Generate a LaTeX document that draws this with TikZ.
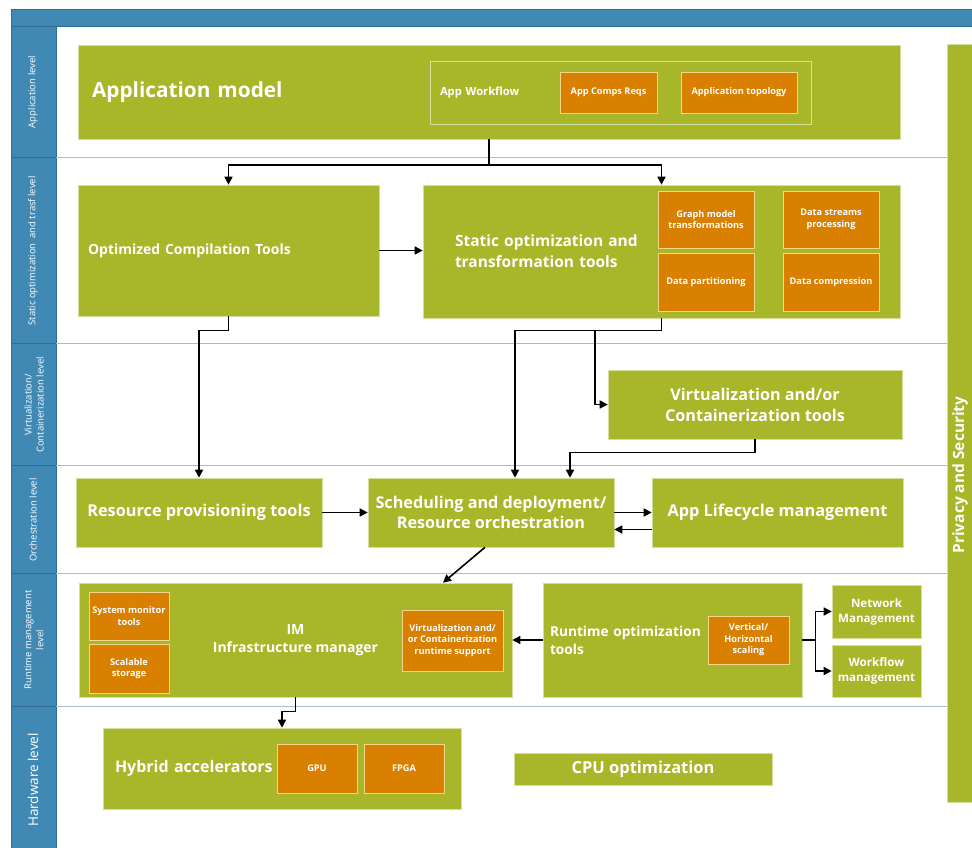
\documentclass[tikz,border=0pt]{standalone}
\usepackage{fontspec}
\setmainfont{Open Sans}
\usetikzlibrary{arrows.meta}
\definecolor{appgreen}{RGB}{167,183,41}
\definecolor{greenline}{RGB}{214,222,160}
\definecolor{apporange}{RGB}{217,128,0}
\definecolor{orangeline}{RGB}{242,214,140}
\definecolor{laneblue}{RGB}{65,137,181}
\definecolor{lanedark}{RGB}{50,108,145}
\definecolor{lanegray}{RGB}{170,188,200}

\begin{document}
\begin{tikzpicture}[x=1pt,y=-1pt,>={Triangle[length=8pt,width=8pt]}]
\tikzstyle{every node}=[inner sep=0pt,text=white,align=center];
\tikzstyle{box}=[fill=appgreen,draw=greenline,line width=0.6pt];
\tikzstyle{subbox}=[fill=apporange,draw=orangeline,line width=0.6pt,font=\bfseries\fontsize{9.2}{11.5}\selectfont];
\tikzstyle{lanelabel}=[rotate=90,font=\fontsize{9.5}{12}\selectfont];
\tikzstyle{link}=[->,line width=1.6pt];
\useasboundingbox (0,0) rectangle (972,848);
\fill[white] (0,0) rectangle (972,848);
\filldraw[fill=laneblue,draw=lanedark] (11,9) rectangle (975,26);
\filldraw[fill=laneblue,draw=lanedark] (11,26) rectangle (56,850);
\foreach \y in {158,343,465,573,706} {
  \draw[lanegray,line width=1pt] (56,\y) -- (947,\y);
  \draw[lanedark,line width=1pt] (11,\y) -- (56,\y);
}
\node[lanelabel] (l1) at (33,92) {Application level};
\node[lanelabel] (l2) at (33,251) {Static optimization\ \ and trasf level};
\node[lanelabel] (l3) at (34,405) {Virtualization/\\Containerization level};
\node[lanelabel] (l4) at (33,520) {Orchestration level};
\node[lanelabel] (l5) at (34,640) {Runtime management\\level};
\node[lanelabel,font=\fontsize{13.5}{16}\selectfont] (l6) at (33,780) {Hardware level};

\node[box,minimum width=822pt,minimum height=94pt,text width=794pt,align=left,font=\bfseries\fontsize{20.8}{24}\selectfont] (am) at (489,92) {Application model};
\node[draw=greenline,line width=0.8pt,minimum width=381pt,minimum height=63pt,text width=361pt,align=left,font=\bfseries\fontsize{11.2}{13}\selectfont] (wf) at (620.5,92.5) {App Workflow};
\node[subbox,minimum width=97pt,minimum height=41pt] (acr) at (608.5,92.5) {App Comps Reqs};
\node[subbox,minimum width=116pt,minimum height=41pt] (atop) at (739,92.5) {Application topology};

\node[box,minimum width=301pt,minimum height=131pt,text width=281pt,align=left,font=\bfseries\fontsize{14}{17}\selectfont] (oct) at (228.5,250.5) {Optimized Compilation Tools};
\node[box,minimum width=477pt,minimum height=133pt,text width=413pt,align=left,font=\bfseries\fontsize{15.5}{21}\selectfont] (sot) at (661.5,251.5) {Static optimization and\\transformation tools};
\node[subbox,minimum width=96pt,minimum height=57pt] (gmt) at (706,219.5) {Graph model\\transformations};
\node[subbox,minimum width=96pt,minimum height=57pt] (dsp) at (831,219.5) {Data streams\\processing};
\node[subbox,minimum width=96pt,minimum height=58pt] (dpart) at (706,282) {Data partitioning};
\node[subbox,minimum width=96pt,minimum height=58pt] (dcomp) at (831,282) {Data compression};

\node[box,minimum width=294pt,minimum height=69pt,font=\bfseries\fontsize{16.2}{21}\selectfont] (vct) at (755,404.5) {Virtualization and/or\\Containerization tools};

\node[box,minimum width=246pt,minimum height=69pt,font=\bfseries\fontsize{16.3}{20}\selectfont] (rpt) at (199,512.5) {Resource provisioning tools};
\node[box,minimum width=246pt,minimum height=69pt,font=\bfseries\fontsize{16.2}{20}\selectfont] (sdr) at (491,512.5) {Scheduling and deployment/\\Resource orchestration};
\node[box,minimum width=251pt,minimum height=69pt,font=\bfseries\fontsize{16.3}{20}\selectfont] (alm) at (777.5,512.5) {App Lifecycle management};

\node[box,minimum width=433pt,minimum height=114pt,font=\bfseries\fontsize{14}{18}\selectfont] (im) at (295.5,640) {IM\\Infrastructure manager};
\node[subbox,minimum width=80pt,minimum height=48pt] (smt) at (129,616) {System monitor\\tools};
\node[subbox,minimum width=80pt,minimum height=49pt] (sst) at (129,668.5) {Scalable\\storage};
\node[subbox,minimum width=101pt,minimum height=61pt] (vcr) at (452.5,640.5) {Virtualization and/\\or Containerization\\runtime support};
\node[box,minimum width=259pt,minimum height=114pt,text width=245pt,align=left,font=\bfseries\fontsize{13.7}{18}\selectfont] (rot) at (672.5,640) {Runtime optimization\\tools};
\node[subbox,minimum width=81pt,minimum height=48pt] (vhs) at (748.5,640) {Vertical/\\Horizontal\\scaling};
\node[box,minimum width=89pt,minimum height=53pt,font=\bfseries\fontsize{11.6}{15}\selectfont] (nm) at (876.5,611.5) {Network\\Management};
\node[box,minimum width=89pt,minimum height=52pt,font=\bfseries\fontsize{11.6}{15}\selectfont] (wm) at (876.5,671) {Workflow\\management};

\node[box,minimum width=358pt,minimum height=81pt,text width=334pt,align=left,font=\bfseries\fontsize{16}{18}\selectfont] (ha) at (282,768.5) {Hybrid accelerators};
\node[subbox,minimum width=80pt,minimum height=49pt] (gpu) at (317,768.5) {GPU};
\node[subbox,minimum width=80pt,minimum height=49pt] (fpga) at (404,768.5) {FPGA};
\node[box,minimum width=258pt,minimum height=32pt,font=\bfseries\fontsize{16.5}{18}\selectfont] (cpu) at (643,769) {CPU optimization};

\node[box,minimum width=32pt,minimum height=758pt] (ps) at (963,423) {};
\node[rotate=90,font=\bfseries\fontsize{15.5}{18}\selectfont] (pstext) at (960,475) {Privacy and Security};

\draw[link] (am.south) -- ++(0,26) -| (oct.north);
\draw[link] (am.south) -- ++(0,26) -| (sot.north);
\draw[link] (oct.east) -- (oct.east -| sot.west);
\draw[link] (oct.south) -- ++(0,14) -| (rpt.north);
\draw[link] (sot.south) -- ++(0,12) -| ([xshift=24pt]sdr.north);
\coordinate (split) at (595,330);
\draw[link] (split) |- (vct.west);
\draw[link] (vct.south) -- ++(0,13) -| ([xshift=79pt]sdr.north);
\draw[link] (rpt.east) -- (sdr.west);
\draw[link] (sdr.east) -- (alm.west);
\draw[link] ([yshift=-17pt]alm.west) -- ([yshift=-17pt]sdr.east);
\draw[link] ([xshift=-6pt]sdr.south) -- ([xshift=147.5pt]im.north);
\draw[link] (rot.west) -- (im.east);
\draw[link] (rot.east) -- ++(13,0) |- (nm.west);
\draw[link] (rot.east) -- ++(13,0) |- (wm.west);
\draw[link] (im.south) -- ++(0,14) -| (ha.north);
\end{tikzpicture}
\end{document}
